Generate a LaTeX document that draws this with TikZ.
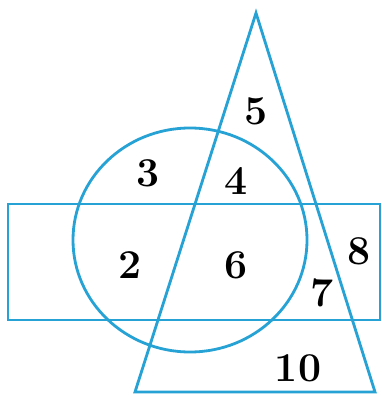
\documentclass[tikz,border=0pt]{standalone}
\usepackage{fontspec}
\definecolor{vblue}{RGB}{38,162,212}
\begin{document}
\begin{tikzpicture}[x=1pt,y=-1pt,
  shape line/.style={draw=vblue,line width=2.8pt,line join=miter},
  num/.style={font=\fontsize{41}{44}\selectfont\bfseries,inner sep=0pt}]
\useasboundingbox[fill=white] (0,0) rectangle (381,395);
% rectangle
\draw[shape line] (8,204) rectangle (380,320);
% circle
\draw[shape line] (190,240) ellipse [x radius=117, y radius=112];
% triangle
\draw[shape line] (256,13) -- (375,392) -- (135,392) -- cycle;
% labels
\node[num] (n5) at (256,111) {5};
\node[num] (n3) at (148,173) {3};
\node[num] (n4) at (236,181) {4};
\node[num] (n2) at (130,265) {2};
\node[num] (n6) at (236,265) {6};
\node[num] (n8) at (359,251) {8};
\node[num] (n7) at (322,293) {7};
\node[num] (n10) at (298,368) {10};
\end{tikzpicture}
\end{document}
